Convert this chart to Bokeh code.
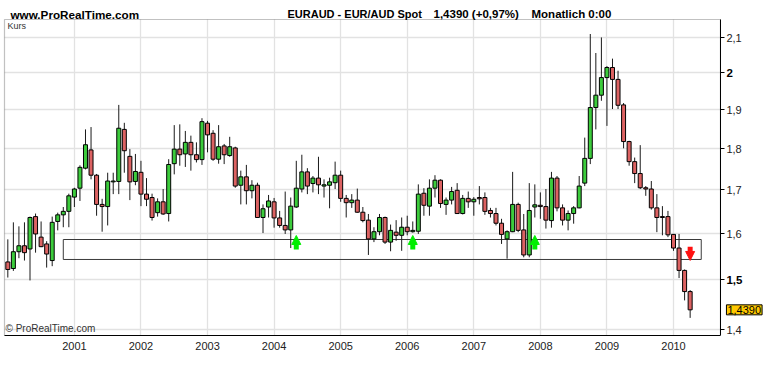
from bokeh.plotting import figure
from bokeh.models import (ColumnDataSource, FixedTicker, CustomJSTickFormatter,
                          Label, Arrow, NormalHead, BoxAnnotation)
from bokeh.embed import file_html
from bokeh.resources import INLINE

# ---------------- data (EUR/AUD monthly, Jan 2000 - Apr 2010) ----------------
months = [f"{y}-{m:02d}" for y in range(2000, 2011) for m in range(1, 13)][:124]

opens = [1.538, 1.524, 1.560, 1.573, 1.566, 1.638, 1.592, 1.577, 1.541, 1.627, 1.642, 1.650,
         1.683, 1.704, 1.752, 1.797, 1.735, 1.666, 1.661, 1.719, 1.720, 1.849, 1.781, 1.720,
         1.742, 1.690, 1.682, 1.647, 1.672, 1.645, 1.763, 1.799, 1.787, 1.816, 1.785, 1.773,
         1.865, 1.839, 1.774, 1.807, 1.783, 1.802, 1.711, 1.731, 1.698, 1.711, 1.636, 1.660,
         1.672, 1.635, 1.618, 1.608, 1.660, 1.702, 1.743, 1.715, 1.728, 1.709, 1.711, 1.717,
         1.735, 1.680, 1.670, 1.676, 1.648, 1.630, 1.588, 1.604, 1.636, 1.581, 1.603, 1.596,
         1.614, 1.604, 1.605, 1.692, 1.662, 1.704, 1.723, 1.666, 1.676, 1.699, 1.645, 1.680,
         1.672, 1.682, 1.682, 1.652, 1.645, 1.623, 1.588, 1.604, 1.666, 1.608, 1.553, 1.660,
         1.664, 1.661, 1.629, 1.728, 1.658, 1.630, 1.645, 1.658, 1.716, 1.776, 1.906, 1.939,
         1.987, 2.015, 1.982, 1.913, 1.818, 1.768, 1.739, 1.705, 1.702, 1.658, 1.638, 1.638,
         1.598, 1.568, 1.520, 1.476]
highs = [1.587, 1.625, 1.616, 1.625, 1.638, 1.645, 1.627, 1.583, 1.638, 1.647, 1.660, 1.691,
         1.705, 1.759, 1.849, 1.855, 1.738, 1.679, 1.741, 1.741, 1.913, 1.866, 1.799, 1.787,
         1.770, 1.728, 1.691, 1.680, 1.702, 1.774, 1.860, 1.862, 1.845, 1.833, 1.816, 1.878,
         1.871, 1.847, 1.860, 1.812, 1.830, 1.805, 1.746, 1.760, 1.723, 1.717, 1.666, 1.688,
         1.681, 1.651, 1.696, 1.682, 1.770, 1.785, 1.752, 1.733, 1.780, 1.725, 1.729, 1.768,
         1.746, 1.688, 1.690, 1.703, 1.660, 1.644, 1.614, 1.644, 1.638, 1.620, 1.630, 1.636,
         1.640, 1.627, 1.713, 1.704, 1.725, 1.735, 1.725, 1.682, 1.707, 1.716, 1.688, 1.696,
         1.683, 1.709, 1.694, 1.658, 1.658, 1.633, 1.607, 1.743, 1.670, 1.644, 1.716, 1.713,
         1.694, 1.702, 1.743, 1.733, 1.666, 1.652, 1.662, 1.733, 1.828, 2.111, 2.056, 2.101,
         2.019, 2.040, 2.006, 1.918, 1.820, 1.778, 1.809, 1.709, 1.721, 1.690, 1.662, 1.651,
         1.599, 1.599, 1.522, 1.479]
lows = [1.505, 1.519, 1.546, 1.541, 1.499, 1.558, 1.570, 1.526, 1.529, 1.607, 1.614, 1.614,
        1.660, 1.674, 1.749, 1.725, 1.640, 1.604, 1.618, 1.690, 1.690, 1.741, 1.676, 1.711,
        1.662, 1.662, 1.629, 1.638, 1.642, 1.627, 1.737, 1.758, 1.755, 1.746, 1.766, 1.760,
        1.791, 1.770, 1.763, 1.762, 1.780, 1.705, 1.666, 1.666, 1.680, 1.636, 1.601, 1.636,
        1.613, 1.613, 1.599, 1.568, 1.658, 1.694, 1.690, 1.694, 1.690, 1.682, 1.657, 1.702,
        1.672, 1.636, 1.658, 1.647, 1.625, 1.553, 1.581, 1.596, 1.577, 1.561, 1.584, 1.562,
        1.596, 1.602, 1.599, 1.640, 1.640, 1.682, 1.658, 1.642, 1.666, 1.645, 1.643, 1.658,
        1.640, 1.666, 1.642, 1.636, 1.618, 1.577, 1.545, 1.603, 1.603, 1.548, 1.548, 1.636,
        1.633, 1.611, 1.613, 1.650, 1.618, 1.607, 1.622, 1.657, 1.709, 1.762, 1.849, 1.924,
        1.858, 1.902, 1.902, 1.801, 1.758, 1.716, 1.702, 1.686, 1.654, 1.603, 1.596, 1.592,
        1.562, 1.504, 1.458, 1.423]
closes = [1.522, 1.560, 1.573, 1.558, 1.636, 1.599, 1.571, 1.555, 1.625, 1.642, 1.650, 1.686,
          1.702, 1.754, 1.810, 1.735, 1.666, 1.661, 1.721, 1.721, 1.852, 1.795, 1.719, 1.744,
          1.690, 1.678, 1.636, 1.672, 1.644, 1.761, 1.799, 1.785, 1.816, 1.785, 1.773, 1.869,
          1.835, 1.774, 1.805, 1.785, 1.805, 1.709, 1.731, 1.698, 1.711, 1.636, 1.656, 1.674,
          1.635, 1.618, 1.608, 1.662, 1.704, 1.743, 1.709, 1.728, 1.712, 1.712, 1.719, 1.735,
          1.680, 1.670, 1.676, 1.648, 1.629, 1.588, 1.604, 1.636, 1.581, 1.607, 1.596, 1.614,
          1.604, 1.607, 1.690, 1.664, 1.704, 1.723, 1.668, 1.676, 1.696, 1.645, 1.680, 1.672,
          1.678, 1.679, 1.650, 1.645, 1.623, 1.598, 1.604, 1.666, 1.607, 1.553, 1.652, 1.665,
          1.661, 1.630, 1.728, 1.658, 1.630, 1.645, 1.658, 1.709, 1.776, 1.906, 1.939, 1.987,
          2.015, 1.982, 1.912, 1.818, 1.768, 1.739, 1.705, 1.702, 1.658, 1.636, 1.636, 1.597,
          1.568, 1.520, 1.476, 1.439]

# support zone and signal arrows
zone_start, zone_end = "2000-11", "2010-06"
zone_low, zone_high = 1.5433, 1.5867
up_arrow_months = ["2004-05", "2006-02", "2007-12"]
up_arrow_tail, up_arrow_tip = 1.565, 1.5956
down_arrow_months = ["2010-04"]
down_arrow_tail, down_arrow_tip = 1.5706, 1.5412

year_ticks = [2001, 2002, 2003, 2004, 2005, 2006, 2007, 2008, 2009, 2010]
price_ticks = [1.4, 1.5, 1.6, 1.7, 1.8, 1.9, 2.0, 2.1]
bold_price_ticks = [1.5, 2.0]
last_price_text = "1,4390"
last_price = 1.439
header = [("www.ProRealTime.com", 10, "11.7px"), ("EURAUD - EUR/AUD Spot", 287, "11px"),
          ("1,4390 (+0,97%)", 433, "11.5px"), ("Monatlich  0:00", 531, "11.5px")]

# ---------------- build ----------------
def mx(s):
    return int(s[:4]) + (int(s[5:7]) - 1) / 12.0

xs = [mx(m) for m in months]
GREEN = "#3ccc3c"
RED = "#dc6262"
src = ColumnDataSource(dict(
    x=xs, o=opens, h=highs, l=lows, c=closes,
    top=[max(a, b) for a, b in zip(opens, closes)],
    bot=[min(a, b) for a, b in zip(opens, closes)],
    col=[GREEN if c >= o else RED for o, c in zip(opens, closes)],
))

# price area limits, and the wider frame that also holds the header and the right scale
X0, X1 = 1999.95, 2010.705
Y0, Y1 = 1.3886, 2.154
XL, XR = 1999.890, 2011.427
YT = 2.2116
FONT = "Liberation Sans"

p = figure(width=768, height=364, x_range=(XL, XR), y_range=(Y0, YT),
           y_axis_type="log", y_axis_location="right",
           output_backend="svg", toolbar_location=None,
           min_border_left=0, min_border_right=0, min_border_top=0, min_border_bottom=29)
p.background_fill_color = "white"
p.border_fill_color = "white"
p.outline_line_color = None

p.xaxis.ticker = FixedTicker(ticks=year_ticks)
p.yaxis.ticker = FixedTicker(ticks=price_ticks)
p.yaxis.fixed_location = X1
p.yaxis.bounds = (Y0, Y1)
p.xaxis.bounds = (X0, X1)
p.yaxis.formatter = CustomJSTickFormatter(code="""
    if (Math.abs(tick - 2.0) < 1e-6 || Math.abs(tick - 1.5) < 1e-6) { return ''; }
    return (Math.round(tick * 10) / 10).toString().replace('.', ',');
""")
for ax in (p.xaxis, p.yaxis):
    ax.minor_tick_line_color = None
    ax.axis_line_color = "black"
    ax.major_label_text_font = FONT
    ax.major_label_text_font_size = "11px"
    ax.major_label_text_color = "#222222"
    ax.major_tick_line_color = "black"
p.xaxis.major_tick_out = 0
p.xaxis.major_tick_in = 0
p.xaxis.major_label_standoff = 6
p.yaxis.major_tick_out = 4
p.yaxis.major_tick_in = 0
p.yaxis.major_label_standoff = 2

p.xgrid.grid_line_color = "#e2e2e2"
p.ygrid.grid_line_color = "#e2e2e2"
p.xgrid.grid_line_width = 1.3
p.ygrid.grid_line_width = 1.3
p.xgrid.cross_bounds = (Y0, Y1)
p.ygrid.cross_bounds = (X0, X1)

# plot border
p.add_layout(BoxAnnotation(left=X0, right=X1, bottom=Y0, top=Y1, fill_alpha=0,
                           line_color="#333333", line_width=1.2, level="underlay"))

# support zone
p.quad(left=[mx(zone_start)], right=[mx(zone_end)], bottom=[zone_low], top=[zone_high],
       fill_alpha=0, line_color="#3a3a3a", line_width=1)

# candles
p.segment(x0="x", y0="l", x1="x", y1="h", source=src, line_color="#1a1a1a", line_width=1)
p.vbar(x="x", width=0.06, top="top", bottom="bot", source=src,
       fill_color="col", line_color="black", line_width=1)

# arrows
for m in up_arrow_months:
    p.add_layout(Arrow(x_start=mx(m), y_start=up_arrow_tail, x_end=mx(m), y_end=up_arrow_tip,
                       line_color="#00ee00", line_width=5,
                       end=NormalHead(size=9, fill_color="#00ee00", line_color="#00ee00")))
for m in down_arrow_months:
    p.add_layout(Arrow(x_start=mx(m), y_start=down_arrow_tail, x_end=mx(m), y_end=down_arrow_tip,
                       line_color="#ff1010", line_width=5,
                       end=NormalHead(size=9, fill_color="#ff1010", line_color="#ff1010")))

# bold tick labels
for t in bold_price_ticks:
    txt = (("%g" % t).replace(".", ","))
    p.add_layout(Label(x=X1, y=t, x_offset=6, text=txt, text_font=FONT,
                       text_font_size="11.5px", text_font_style="bold", text_color="black",
                       text_baseline="middle", text_align="left"))

# last price tag
p.add_layout(Label(x=X1, y=last_price, x_offset=6, text=last_price_text, text_font=FONT,
                   text_font_size="11px", text_color="black", text_baseline="middle",
                   text_align="left", background_fill_color="#ffc800",
                   border_line_color="black", padding=1))

# inner texts
p.add_layout(Label(x=X0, y=Y1, x_offset=3, y_offset=-2, text="Kurs", text_font=FONT,
                   text_font_size="9px", text_color="#333333", text_baseline="top"))
p.add_layout(Label(x=X0, y=Y0, x_offset=1, y_offset=2, text="\u00a9 ProRealTime.com",
                   text_font=FONT, text_font_size="10px", text_color="#333333",
                   text_baseline="bottom"))

# header texts
for txt, off, fs in header:
    p.add_layout(Label(x=XL, y=Y1, x_offset=off, y_offset=5, text=txt, text_font=FONT,
                       text_font_size=fs, text_font_style="bold", text_color="black",
                       text_baseline="alphabetic", text_align="left"))

open("out.html", "w").write(file_html(p, INLINE))
